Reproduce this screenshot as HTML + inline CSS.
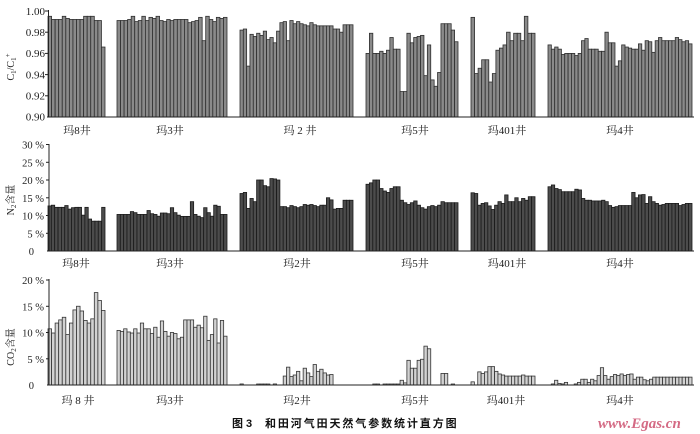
<!DOCTYPE html>
<html><head><meta charset="utf-8">
<style>
html,body{margin:0;padding:0;background:#fff;width:700px;height:434px;overflow:hidden}
svg{display:block}
.t{font-family:"Liberation Serif","Noto Serif CJK SC",serif;font-size:11px;fill:#222}
.c{font-family:"Liberation Serif","Noto Serif CJK SC",serif;font-size:11px;fill:#222;text-anchor:middle}
.y{font-family:"Liberation Serif","Noto Serif CJK SC",serif;font-size:10px;fill:#222;text-anchor:middle}
</style></head><body>
<svg id="s" width="700" height="434" viewBox="0 0 700 434" xmlns="http://www.w3.org/2000/svg">
<g id="bars"></g>
<g stroke="#222" stroke-width="1" fill="none">
  <!-- panel 1 -->
  <line x1="48.5" y1="10" x2="48.5" y2="117"/>
  <line x1="47" y1="117" x2="694" y2="117"/>
  <line x1="45" y1="11" x2="48.5" y2="11"/>
  <line x1="45" y1="32.2" x2="48.5" y2="32.2"/>
  <line x1="45" y1="53.4" x2="48.5" y2="53.4"/>
  <line x1="45" y1="74.6" x2="48.5" y2="74.6"/>
  <line x1="45" y1="95.8" x2="48.5" y2="95.8"/>
  <!-- panel 2 -->
  <line x1="49" y1="144" x2="49" y2="251"/>
  <line x1="47" y1="251" x2="694" y2="251"/>
  <line x1="46" y1="144.5" x2="49" y2="144.5"/>
  <line x1="46" y1="162.3" x2="49" y2="162.3"/>
  <line x1="46" y1="180" x2="49" y2="180"/>
  <line x1="46" y1="197.8" x2="49" y2="197.8"/>
  <line x1="46" y1="215.5" x2="49" y2="215.5"/>
  <line x1="46" y1="233.3" x2="49" y2="233.3"/>
  <!-- panel 3 -->
  <line x1="49" y1="279" x2="49" y2="385"/>
  <line x1="47" y1="385" x2="694" y2="385"/>
  <line x1="46" y1="280" x2="49" y2="280"/>
  <line x1="46" y1="306.3" x2="49" y2="306.3"/>
  <line x1="46" y1="332.5" x2="49" y2="332.5"/>
  <line x1="46" y1="358.8" x2="49" y2="358.8"/>
</g>

<!-- panel 1 tick labels -->
<g class="t" text-anchor="end">
  <text x="45" y="15">1.00</text>
  <text x="45" y="36">0.98</text>
  <text x="45" y="57">0.96</text>
  <text x="45" y="78.5">0.94</text>
  <text x="45" y="99.5">0.92</text>
  <text x="45" y="120.5">0.90</text>
</g>
<text class="y" transform="translate(14,67) rotate(-90)">C<tspan font-size="7" dy="2">1</tspan><tspan dy="-2">/C</tspan><tspan font-size="7" dy="2">1</tspan><tspan font-size="7" dy="-6">+</tspan></text>

<!-- panel 2 tick labels -->
<g class="t" text-anchor="end" style="font-size:10.5px">
  <text x="44" y="148.5">30 %</text>
  <text x="44" y="166.3">25 %</text>
  <text x="44" y="184">20 %</text>
  <text x="44" y="201.8">15 %</text>
  <text x="44" y="219.5">10 %</text>
  <text x="44" y="237.3">5 %</text>
  <text x="34" y="255">0</text>
</g>
<text class="y" transform="translate(14,200) rotate(-90)">N<tspan font-size="7" dy="2">2</tspan><tspan dy="-2">含量</tspan></text>

<!-- panel 3 tick labels -->
<g class="t" text-anchor="end" style="font-size:10.5px">
  <text x="44" y="284">20 %</text>
  <text x="44" y="310.3">15 %</text>
  <text x="44" y="336.5">10 %</text>
  <text x="44" y="362.8">5 %</text>
  <text x="34" y="389">0</text>
</g>
<text class="y" transform="translate(14,347) rotate(-90)">CO<tspan font-size="7" dy="2">2</tspan><tspan dy="-2">含量</tspan></text>

<!-- category labels -->
<g class="c">
  <text x="77" y="134">玛8井</text>
  <text x="170" y="134">玛3井</text>
  <text x="300" y="134">玛 2 井</text>
  <text x="415" y="134">玛5井</text>
  <text x="507" y="134">玛401井</text>
  <text x="620" y="134">玛4井</text>

  <text x="76" y="267">玛8井</text>
  <text x="170" y="267">玛3井</text>
  <text x="297" y="267">玛2井</text>
  <text x="415" y="267">玛5井</text>
  <text x="507" y="267">玛401井</text>
  <text x="620" y="267">玛4井</text>

  <text x="78" y="404">玛 8 井</text>
  <text x="170" y="404">玛3井</text>
  <text x="297" y="404">玛2井</text>
  <text x="415" y="404">玛5井</text>
  <text x="506" y="404">玛401井</text>
  <text x="620" y="404">玛4井</text>
</g>

<!-- caption -->
<text x="232" y="427" style="font-family:'Liberation Sans','Noto Sans CJK SC',sans-serif;font-size:11px;font-weight:bold;fill:#111">图 3</text>
<text x="265" y="427" style="font-family:'Liberation Sans','Noto Sans CJK SC',sans-serif;font-size:11px;font-weight:bold;fill:#111;letter-spacing:1.9px">和田河气田天然气参数统计直方图</text>
<text x="598" y="428" style="font-family:'Liberation Serif',serif;font-size:15px;font-style:italic;font-weight:bold;fill:#d46a84">www.Egas.cn</text>
</svg>
<script>
(function(){
var NS="http://www.w3.org/2000/svg";
var g=document.getElementById('bars');
function draw(groups, base, min, k, fill, stroke){
  groups.forEach(function(gr){
    var s=gr[0], e=gr[1], v=gr[2], w=(e-s)/v.length;
    v.forEach(function(val,i){
      if(val<=min) return;
      var h=(val-min)*k; if(h<1) h=1;
      var r=document.createElementNS(NS,'rect');
      r.setAttribute('x',(s+i*w).toFixed(2));
      r.setAttribute('y',(base-h).toFixed(2));
      r.setAttribute('width',w.toFixed(2));
      r.setAttribute('height',h.toFixed(2));
      r.setAttribute('fill',fill);
      r.setAttribute('stroke',stroke);
      r.setAttribute('stroke-width','0.8');
      g.appendChild(r);
    });
  });
}
// Panel 1: C1/C1+
draw([
 [48,105,[0.995,0.992,0.992,0.992,0.995,0.993,0.992,0.992,0.992,0.992,0.995,0.995,0.995,0.991,0.991,0.966]],
 [117,227,[0.991,0.991,0.991,0.992,0.995,0.990,0.991,0.995,0.991,0.994,0.993,0.995,0.991,0.990,0.992,0.991,0.992,0.992,0.992,0.992,0.989,0.990,0.991,0.994,0.972,0.995,0.992,0.990,0.994,0.993,0.994]],
 [240,353,[0.982,0.983,0.948,0.978,0.976,0.979,0.977,0.981,0.973,0.975,0.970,0.981,0.989,0.990,0.972,0.991,0.988,0.990,0.988,0.987,0.986,0.989,0.987,0.986,0.986,0.986,0.986,0.986,0.983,0.983,0.980,0.987,0.987,0.987]],
 [366,458,[0.960,0.979,0.960,0.960,0.962,0.960,0.963,0.975,0.964,0.964,0.924,0.924,0.979,0.970,0.975,0.976,0.977,0.939,0.968,0.935,0.929,0.942,0.988,0.988,0.988,0.982,0.971]],
 [471,535,[0.994,0.941,0.946,0.954,0.954,0.933,0.941,0.963,0.965,0.968,0.980,0.972,0.979,0.979,0.972,0.995,0.979,0.979]],
 [548,692,[0.968,0.964,0.966,0.964,0.959,0.960,0.960,0.960,0.958,0.960,0.972,0.974,0.964,0.964,0.964,0.962,0.962,0.980,0.970,0.970,0.948,0.953,0.968,0.966,0.965,0.964,0.964,0.969,0.963,0.972,0.971,0.961,0.972,0.975,0.972,0.972,0.972,0.972,0.975,0.973,0.971,0.972,0.969]]
],117,0.90,1060,'#8a8a8a','#2e2e2e');
// Panel 2: N2
draw([
 [48,105,[12.7,12.9,12.3,12.3,12.3,12.8,11.8,12.2,12.3,12.3,10.1,12.3,9.0,8.4,8.4,8.4,12.3]],
 [117,227,[10.3,10.3,10.3,10.3,11.1,10.8,10.3,10.3,10.3,11.4,10.5,10.3,9.8,10.7,10.7,10.5,12.2,10.8,10.1,9.75,9.75,9.75,13.9,10.3,9.8,9.4,12.2,10.8,9.8,12.9,12.6,10.3,10.3]],
 [240,353,[16.2,16.5,12.0,14.8,13.9,20.0,20.0,18.4,18.1,20.4,20.3,20.0,12.5,12.5,12.2,12.8,12.5,12.2,12.5,13.1,12.9,13.1,12.8,12.5,12.9,12.9,15.0,14.4,11.8,12.0,12.0,14.3,14.3,14.3]],
 [366,458,[18.8,19.2,20.0,20.0,17.6,16.9,16.5,17.6,18.1,18.1,14.3,13.6,13.1,13.6,14.1,12.9,12.2,11.8,12.5,12.8,12.5,12.9,13.9,13.6,13.6,13.6,13.6]],
 [471,535,[16.4,16.2,12.9,13.4,13.6,12.7,11.7,12.9,13.9,13.4,15.8,13.9,13.9,15.0,13.9,14.8,14.3,15.3,15.3]],
 [548,692,[18.1,18.6,17.6,17.3,16.7,16.7,16.7,16.7,17.4,17.2,14.8,14.3,14.3,14.1,14.1,14.1,14.3,13.9,12.8,12.3,12.5,12.8,12.8,12.8,12.8,16.5,15.0,15.8,15.9,13.4,15.3,13.9,13.4,12.9,13.1,13.4,13.4,13.4,13.4,12.8,13.1,13.4,13.4]]
],251,0,3.55,'#4c4c4c','#1a1a1a');
// Panel 3: CO2
draw([
 [48,105,[10.7,9.9,11.8,12.4,12.9,9.6,11.8,14.3,15.0,14.1,12.3,11.8,12.6,17.6,16.1,14.2]],
 [117,227,[10.4,10.2,10.7,10.1,9.9,10.7,9.9,11.8,10.7,10.7,9.8,11.0,9.1,12.2,10.2,9.3,10.0,9.8,8.8,9.1,12.4,12.4,12.4,11.0,11.4,10.9,13.1,8.5,9.6,12.6,8.0,12.3,9.3]],
 [240,353,[0.2,0,0,0,0,0.15,0.15,0.15,0.15,0,0.2,0,0,1.7,3.4,1.6,1.9,2.6,0.8,3.2,2.3,1.6,3.9,2.6,3.0,2.3,1.9,2.0,0,0,0,0,0,0]],
 [366,458,[0,0,0.15,0.15,0,0.15,0.15,0.15,0.15,0.15,0.9,0.4,4.7,3.2,3.2,4.7,4.9,7.4,6.9,0,0,0,2.2,2.2,0,0.15,0]],
 [471,535,[0.6,0,2.5,2.2,2.5,3.5,3.5,2.6,2.1,1.9,1.7,1.7,1.7,1.7,1.7,1.9,1.7,1.7,1.7]],
 [548,692,[0,0.2,0.9,0.3,0.2,0.5,0,0,0.2,0.5,1.1,1.1,0.5,1.1,0.8,1.8,3.3,1.8,1.1,1.6,2.0,1.8,2.1,1.8,2.0,2.1,1.1,1.5,1.5,1.0,0.8,1.1,1.5,1.5,1.5,1.5,1.5,1.5,1.5,1.5,1.5,1.5,1.5,1.5]]
],385,0,5.25,'#d2d2d2','#333');
})();
</script>
</body></html>
